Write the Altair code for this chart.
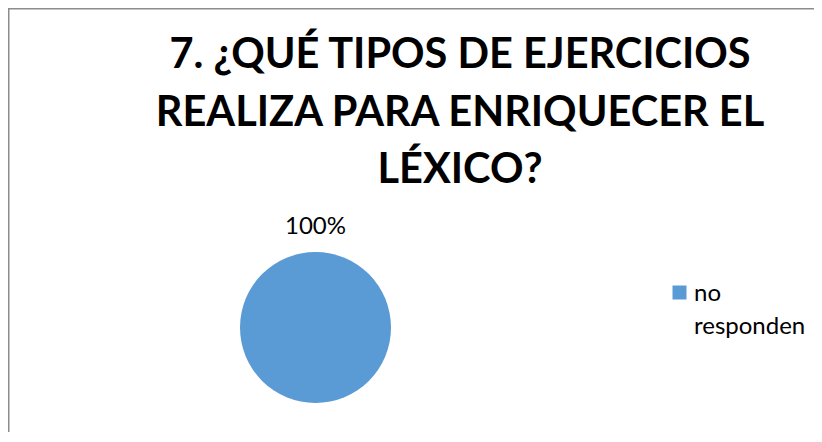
import altair as alt
import pandas as pd

# ---- data ----
categories = ["no responden"]
values = [100]
pct_labels = ["100%"]
title_lines = ["7. ¿QUÉ TIPOS DE EJERCICIOS", "REALIZA PARA ENRIQUECER EL", "LÉXICO?"]

BLUE = "#5B9BD5"
GRAY = "#8C8C8C"
FONT = "Lato"
W, H = 806, 424
CX, CY, R = 307.5, 319.5, 75.5

df = pd.DataFrame({"categoria": categories, "valor": values, "etiqueta": pct_labels})
base = alt.Chart(df)
color_scale = alt.Scale(domain=categories, range=[BLUE])

pie = base.mark_arc(outerRadius=R, strokeWidth=0).encode(
    theta=alt.Theta("valor:Q", stack=True),
    color=alt.Color("categoria:N", scale=color_scale, legend=None),
    x=alt.value(CX), y=alt.value(CY),
)

pct = base.mark_text(font=FONT, fontSize=24, color="#000000", baseline="middle", dy=-101).encode(
    text="etiqueta:N", x=alt.value(CX), y=alt.value(CY),
)

# legend: swatch + wrapped label
legend_sym = base.mark_square(size=196, opacity=1, strokeWidth=0).encode(
    color=alt.Color("categoria:N", scale=color_scale, legend=None),
    x=alt.value(671.5), y=alt.value(284.5),
)
legend_txt = base.transform_calculate(lines="split(datum.categoria, ' ')").mark_text(
    font=FONT, fontSize=24, color="#000000", align="left", baseline="alphabetic", lineHeight=33.5,
).encode(text="lines:N", x=alt.value(686), y=alt.value(292.5))

title = alt.Chart(pd.DataFrame({"t": [0]})).mark_text(
    text=title_lines, font=FONT, fontWeight="bold", fontSize=41.5, lineHeight=57.5,
    color="#000000", align="center", baseline="alphabetic",
).encode(x=alt.value(452), y=alt.value(60))

# chart frame (only its top and left edges fall inside the window)
frame = alt.Chart(pd.DataFrame({"t": [0]})).mark_rect(
    fill=None, stroke=GRAY, strokeWidth=1.5
).encode(x=alt.value(0.75), y=alt.value(0.75), x2=alt.value(W + 20), y2=alt.value(H + 20))

chart = alt.layer(frame, pie, pct, legend_sym, legend_txt, title).properties(
    width=W, height=H, padding=0, autosize=alt.AutoSizeParams(type="none"),
    background="white",
).configure_view(stroke=None)

chart.save("out.html", embed_options={"renderer": "svg", "actions": False})
